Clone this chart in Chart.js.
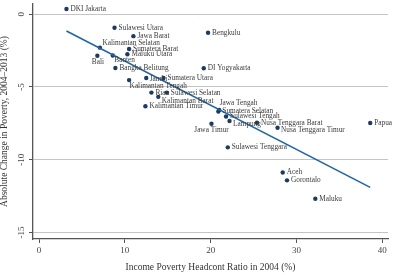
<!DOCTYPE html>
<html>
<head>
<meta charset="utf-8">
<script src="https://cdn.jsdelivr.net/npm/chart.js@4/dist/chart.umd.min.js"></script>
<style>
  html, body { margin: 0; padding: 0; background: #ffffff; }
  #wrap { width: 395px; height: 275px; position: relative; }
</style>
</head>
<body>
<div id="wrap"><canvas id="chart"></canvas></div>
<script>
// Provinces, poverty headcount 2004 (%) and change 2004-2013 (points)
const provinces = [
  "DKI Jakarta", "Sulawesi Utara", "Jawa Barat", "Kalimantan Selatan", "Sumatera Barat",
  "Maluku Utara", "Bali", "Banten", "Bangka Belitung", "Bengkulu",
  "DI Yogyakarta", "Sumatera Utara", "Jambi", "Kalimantan Tengah", "Riau",
  "Sulawesi Selatan", "Kalimantan Barat", "Kalimantan Timur", "Jawa Tengah", "Sumatera Selatan",
  "Sulawesi Tengah", "Lampung", "Jawa Timur", "Nusa Tenggara Barat", "Nusa Tenggara Timur",
  "Papua", "Sulawesi Tenggara", "Aceh", "Gorontalo", "Maluku"
];
const headcount2004 = [
  3.2, 8.8, 11.0, 7.1, 10.5,
  10.3, 6.8, 8.6, 8.9, 19.7,
  19.2, 14.5, 12.5, 10.5, 13.1,
  14.9, 13.9, 12.4, 21.0, 20.9,
  21.8, 22.2, 20.1, 25.4, 27.8,
  38.6, 22.0, 28.4, 28.9, 32.2
];
const povertyChange = [
  0.36, -0.93, -1.51, -2.30, -2.39,
  -2.75, -2.86, -2.84, -3.70, -1.28,
  -3.72, -4.39, -4.39, -4.53, -5.39,
  -5.39, -5.68, -6.33, -6.58, -6.69,
  -7.03, -7.34, -7.53, -7.46, -7.80,
  -7.48, -9.15, -10.88, -11.42, -12.68
];
// fitted line (ends at the smallest and largest headcount)
const fitX = [3.2, 38.6];
const fitY = [-1.15, -11.9];

const xTicks = [0, 10, 20, 30, 40];
const yTicks = [0, -5, -10, -15];

// where each label sits relative to its dot: [dx, dy, textAlign]
const labelPlace = {
  "Bali": [0.5, 6.5, "center"],
  "Banten": [1.5, 5, "left"],
  "Kalimantan Selatan": [2.5, -4.3, "left"],
  "Kalimantan Tengah": [0.5, 5.7, "left"],
  "Kalimantan Barat": [3.5, 4, "left"],
  "Jawa Tengah": [0.5, -6.5, "left"],
  "Lampung": [3.5, 3, "left"],
  "Jawa Timur": [0, 6, "center"],
  "Jambi": [3.5, 1.5, "left"],
  "Nusa Tenggara Timur": [3.5, 2, "left"]
};

const serif = '"Liberation Serif", "Times New Roman", serif';

const pointLabels = {
  id: 'pointLabels',
  afterDatasetsDraw(chart) {
    const meta = chart.getDatasetMeta(1);
    const ctx = chart.ctx;
    ctx.save();
    ctx.font = '7.3px ' + serif;
    ctx.fillStyle = '#3a3a3a';
    ctx.textBaseline = 'middle';
    meta.data.forEach(function (pt, i) {
      const name = provinces[i];
      const p = labelPlace[name] || [4, 0, 'left'];
      ctx.textAlign = p[2];
      ctx.fillText(name, pt.x + p[0], pt.y + p[1]);
    });
    ctx.restore();
  }
};

const points = headcount2004.map(function (x, i) { return { x: x, y: povertyChange[i] }; });
const fitLine = fitX.map(function (x, i) { return { x: x, y: fitY[i] }; });

new Chart(document.getElementById('chart'), {
  type: 'scatter',
  data: {
    datasets: [
      {
        data: fitLine,
        showLine: true,
        borderColor: '#2165a6',
        borderWidth: 1.6,
        pointRadius: 0
      },
      {
        data: points,
        backgroundColor: '#1b3b60',
        borderWidth: 0,
        pointRadius: 2.2
      }
    ]
  },
  options: {
    responsive: true,
    maintainAspectRatio: false,
    animation: false,
    layout: { padding: { left: 0, right: 7, top: 0, bottom: 0 } },
    plugins: {
      legend: { display: false },
      tooltip: { enabled: false }
    },
    scales: {
      x: {
        type: 'linear',
        min: -0.7,
        max: 40.67,
        afterBuildTicks: function (s) { s.ticks = xTicks.map(function (v) { return { value: v }; }); },
        afterFit: function (s) { s.height = 36; s.paddingLeft = 0; s.paddingRight = 0; },
        border: { display: true, color: '#555555', width: 1.3 },
        grid: { drawOnChartArea: false, drawTicks: true, tickLength: 4, tickColor: '#555555', tickWidth: 1 },
        ticks: {
          padding: 2,
          color: '#444444',
          font: { family: serif, size: 9 },
          maxRotation: 0,
          autoSkip: false
        },
        title: {
          display: true,
          text: 'Income Poverty Headcont Ratio in 2004 (%)',
          color: '#333333',
          font: { family: serif, size: 9.5 },
          padding: { top: 0, bottom: 2 }
        }
      },
      y: {
        type: 'linear',
        min: -15.45,
        max: 0.7,
        afterBuildTicks: function (s) { s.ticks = yTicks.map(function (v) { return { value: v }; }); },
        afterFit: function (s) { s.width = 33; s.paddingTop = 0; s.paddingBottom = 0; },
        border: { display: true, color: '#555555', width: 1.3 },
        grid: { drawOnChartArea: true, color: '#c4c4c4', lineWidth: 1, drawTicks: true, tickLength: 4, tickColor: '#555555' },
        ticks: {
          padding: 1.5,
          color: '#444444',
          font: { family: serif, size: 9 },
          minRotation: 90,
          maxRotation: 90,
          crossAlign: 'center',
          autoSkip: false
        },
        title: {
          display: true,
          text: 'Absolute Change in Poverty, 2004–2013 (%)',
          color: '#333333',
          font: { family: serif, size: 9.5, lineHeight: 1 },
          padding: { top: 0, bottom: 0 }
        }
      }
    }
  },
  plugins: [pointLabels]
});
</script>
</body>
</html>
